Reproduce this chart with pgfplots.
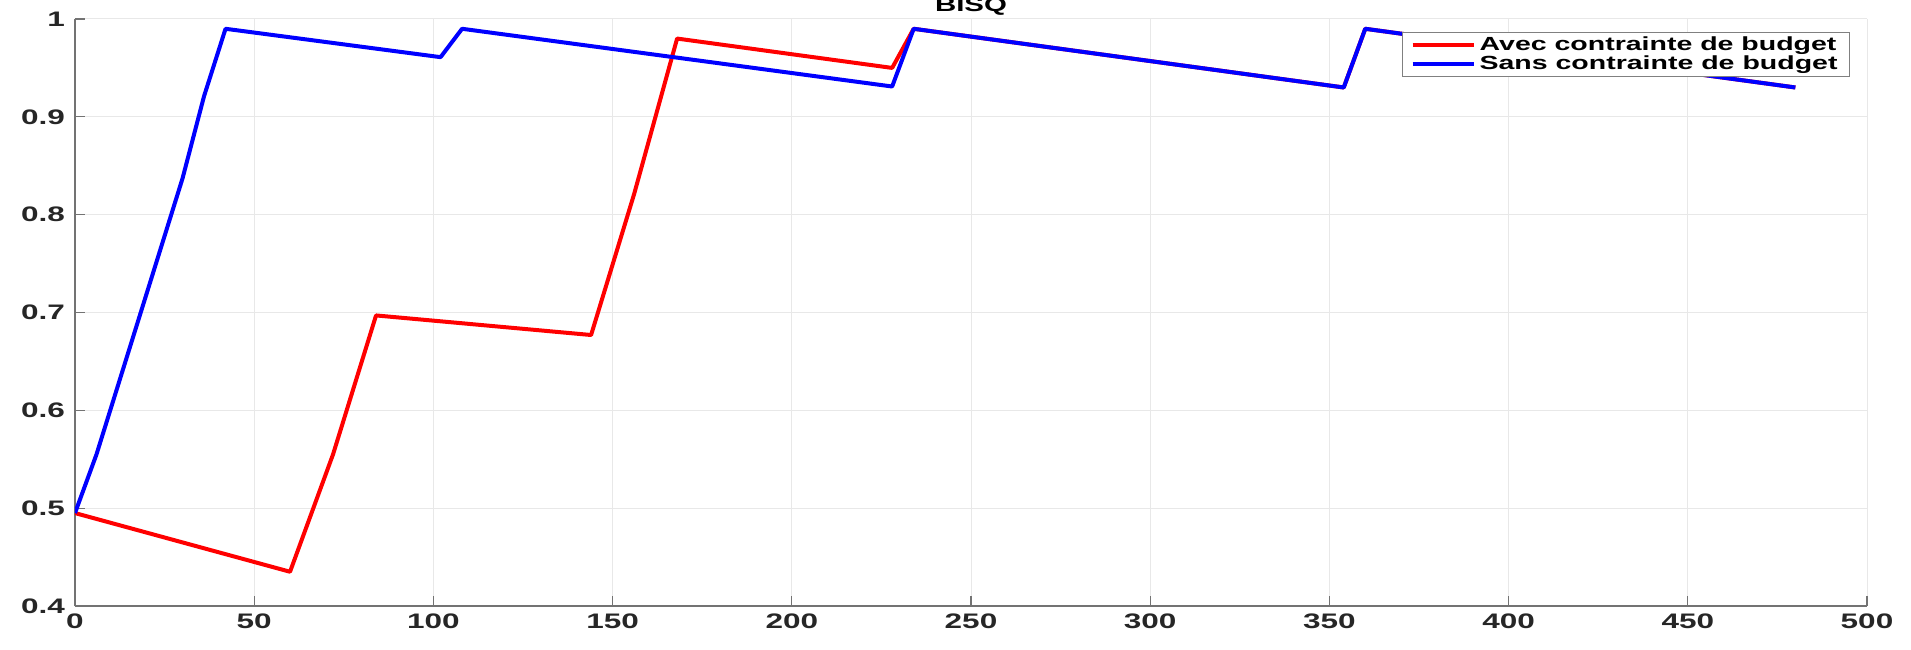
\documentclass[border=0pt]{standalone}
\usepackage{fontspec}
\setmainfont{Liberation Sans}[FakeStretch=1.5]
\usepackage{pgfplots}
\pgfplotsset{compat=1.18}
\definecolor{axgray}{HTML}{262626}
\begin{document}
\begin{tikzpicture}
\begin{axis}[
  name=ax,
  scale only axis,
  width=896pt, height=293.5pt,
  xmin=0, xmax=500, ymin=0.4, ymax=1,
  xtick={0,50,100,150,200,250,300,350,400,450,500},
  ytick={0.4,0.5,0.6,0.7,0.8,0.9,1},
  axis lines=left,
  axis line style={-, draw=black!55, line width=0.6pt},
  tick style={draw=black!55, line width=0.6pt},
  tick align=inside,
  major tick length=5pt,
  grid=major,
  major grid style={draw=black!9, line width=0.5pt},
  /pgf/number format/assume math mode=true,
  /pgf/number format/fixed,
  ticklabel style={font=\fontsize{10.5}{12}\selectfont\bfseries, text=axgray},
  xticklabel style={yshift=-0.5pt},
  yticklabel style={xshift=-1.5pt},
  title={BISQ},
  title style={at={(0.5,1)}, anchor=base, yshift=-2.3pt, inner sep=0pt,
    font=\fontsize{9.8}{12}\selectfont\bfseries, text=black},
  legend style={
    at={(1,1)}, anchor=north east, xshift=-8.5pt, yshift=-6.5pt,
    draw=black!50, line width=0.5pt,
    font=\fontsize{9.5}{9.5}\selectfont\bfseries,
    inner xsep=4pt, inner ysep=1.5pt, row sep=0pt,
    nodes={text height=6.8pt, text depth=1.8pt, inner ysep=0.5pt},
    cells={anchor=west},
  },
  legend image code/.code={\draw[#1, line width=2pt] (0pt,0pt) -- (30.5pt,0pt);},
]
\addplot[red, line width=2pt, line join=round] coordinates {
  (0,0.495) (60,0.435) (72,0.555) (84,0.697) (144,0.677) (156,0.821)
  (168,0.980) (228,0.950) (234,0.990) (354,0.930) (360,0.990) (480,0.930)
};
\addlegendentry{Avec contrainte de budget}
\addplot[blue, line width=2pt, line join=round] coordinates {
  (0,0.495) (6,0.555) (30,0.837) (36,0.921) (42,0.990) (102,0.961)
  (108,0.990) (228,0.931) (234,0.990) (354,0.930) (360,0.990) (480,0.930)
};
\addlegendentry{Sans contrainte de budget}
\end{axis}
\pgfresetboundingbox
\path[use as bounding box] ([xshift=-37.5pt,yshift=-21.5pt]ax.south west) rectangle ([xshift=22pt,yshift=9.5pt]ax.north east);
\end{tikzpicture}
\end{document}
